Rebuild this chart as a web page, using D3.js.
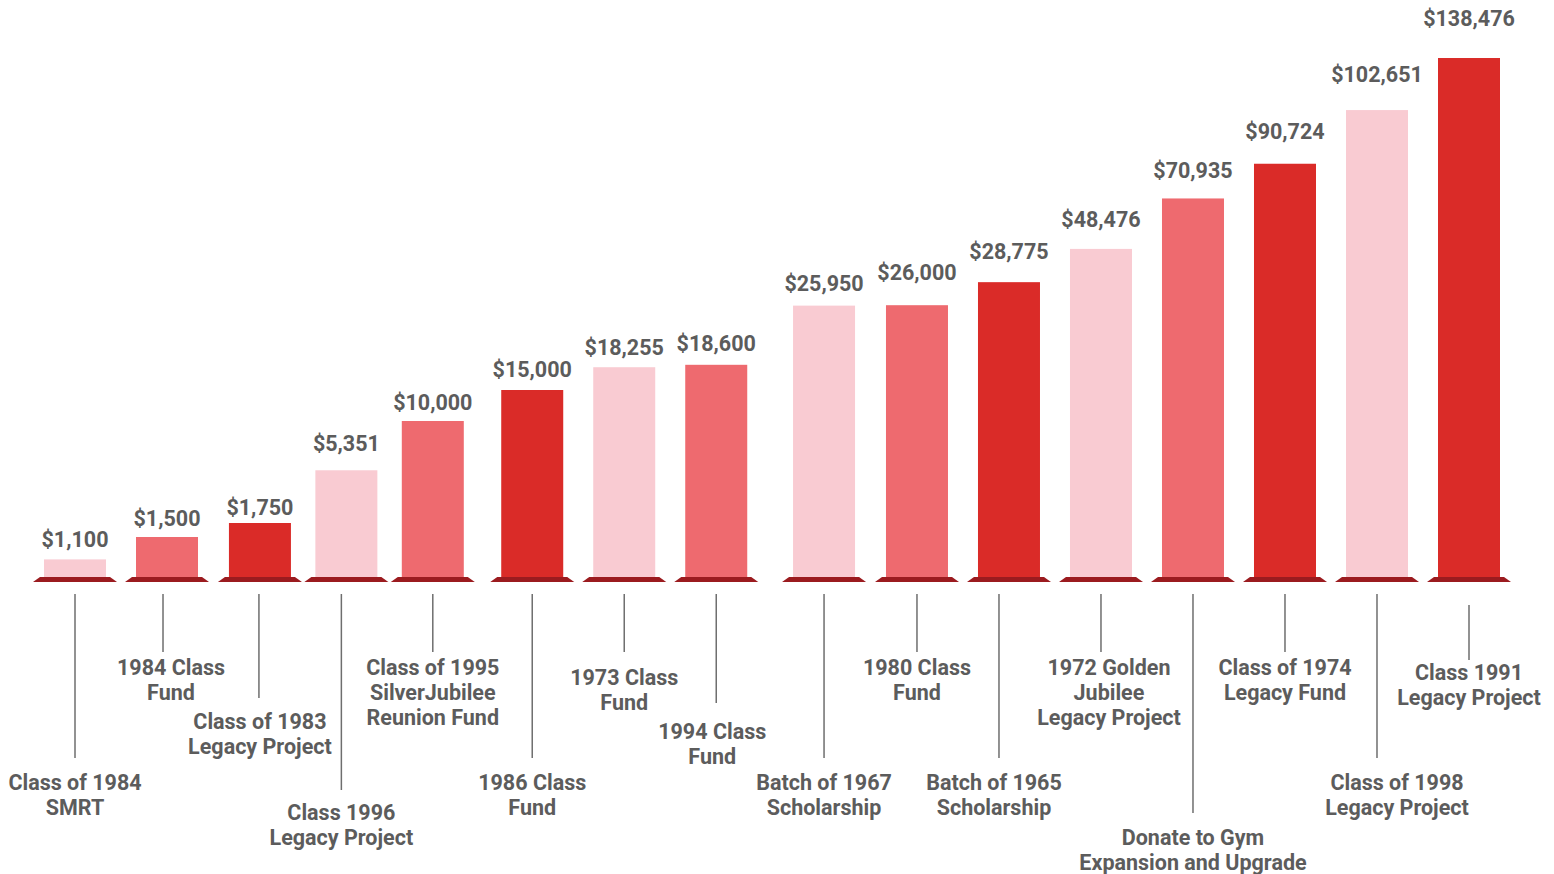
<html>
<head>
<style>
  body { margin: 0; background: #fff; }
  text { font-family: Roboto, "Noto Sans", sans-serif; font-weight: 700; fill: #5c5c5c; }
  .lead { stroke: #6e6e6e; stroke-width: 1.5; }
</style>
</head>
<body>
<svg id="chart" width="1554" height="874"></svg>
<script src="https://cdn.jsdelivr.net/npm/d3@7"></script>
<script>
// data
const names = [
  ["Class of 1984", "SMRT"],
  ["1984 Class", "Fund"],
  ["Class of 1983", "Legacy Project"],
  ["Class 1996", "Legacy Project"],
  ["Class of 1995", "SilverJubilee", "Reunion Fund"],
  ["1986 Class", "Fund"],
  ["1973 Class", "Fund"],
  ["1994 Class", "Fund"],
  ["Batch of 1967", "Scholarship"],
  ["1980 Class", "Fund"],
  ["Batch of 1965", "Scholarship"],
  ["1972 Golden", "Jubilee", "Legacy Project"],
  ["Donate to Gym", "Expansion and Upgrade"],
  ["Class of 1974", "Legacy Fund"],
  ["Class of 1998", "Legacy Project"],
  ["Class 1991", "Legacy Project"]
]
const amounts = [1100, 1500, 1750, 5351, 10000, 15000, 18255, 18600, 25950, 26000, 28775, 48476, 70935, 90724, 102651, 138476]
const shade = [0, 1, 2, 0, 1, 2, 0, 1, 0, 1, 2, 0, 1, 2, 0, 2]

// layout of the infographic (not data): slot of each bar, staggered labels
const slot    = [0, 0.99, 1.99, 2.92, 3.85, 4.92, 5.91, 6.9, 8.06, 9.06, 10.05, 11.04, 12.03, 13.02, 14.01, 15]
const lineDx  = [0, -4, -1, -5, 0, 0, 0, 0, 0, 0, -10, 0, 0, 0, 0, 0]
const lineEnd = [758, 652, 698, 790, 652, 758, 652, 703, 758, 652, 758, 652, 813, 652, 758, 660]
const textTop = [790, 675, 729, 820, 675, 790, 685, 739, 790, 675, 790, 675, 845, 675, 790, 680]
const textDx  = [0, 4, 0, -5, 0, 0, 0, -4, 0, 0, -15, 8, 0, 0, 20, 0]
const valueGap = [12, 11, 8, 19, 11, 13, 12, 14, 15, 25, 23, 22, 20, 25, 28, 32]

const colors = ["#f9cbd2", "#ee6a6f", "#da2b28"]
const baseY = 577
const barW = 62

const svg = d3.select("#chart")
const keys = d3.range(amounts.length)

const xs = d3.scaleLinear()
  .domain([0, 15])
  .range([75, 1469])
const x = i => xs(slot[i])

// the original infographic is not drawn to a linear scale;
// a stepped piecewise scale reproduces its bar heights
const y = d3.scaleLinear()
  .domain([0, 1000, 2000, 5000, 10000, 15000, 20000, 30000, 50000, 70000, 90000, 110000, 140000])
  .range([0, 12, 68, 103, 156, 187, 222, 305, 330, 377, 410, 500, 520].map(h => baseY - h))

let bars = svg.append("g")
bars.selectAll("rect")
  .data(keys)
  .join("rect")
  .attr("x", i => x(i) - barW / 2)
  .attr("y", i => y(amounts[i]))
  .attr("width", barW)
  .attr("height", i => baseY - y(amounts[i]))
  .attr("fill", i => colors[shade[i]])

// dark plinth under each bar
bars.selectAll("path")
  .data(keys)
  .join("path")
  .attr("d", i => {
    let c = x(i)
    return `M${c - 35},${baseY} L${c + 35},${baseY} L${c + 42},${baseY + 5} L${c - 42},${baseY + 5} Z`
  })
  .attr("fill", "#9b1b1f")

svg.append("g").selectAll("text")
  .data(keys)
  .join("text")
  .attr("x", i => x(i))
  .attr("y", i => y(amounts[i]) - valueGap[i])
  .attr("text-anchor", "middle")
  .attr("font-size", 21.5)
  .text(i => d3.format("$,")(amounts[i]))

svg.append("g").selectAll("line")
  .data(keys)
  .join("line")
  .attr("class", "lead")
  .attr("x1", i => x(i) + lineDx[i])
  .attr("x2", i => x(i) + lineDx[i])
  .attr("y1", i => i == 15 ? 605 : 594)
  .attr("y2", i => lineEnd[i])

let labels = svg.append("g").selectAll("text")
  .data(keys)
  .join("text")
  .attr("text-anchor", "middle")
  .attr("font-size", 21.5)
  .attr("y", i => textTop[i])

labels.selectAll("tspan")
  .data(i => names[i].map(t => ({ t: t, i: i })))
  .join("tspan")
  .attr("x", d => x(d.i) + textDx[d.i])
  .attr("dy", (d, k) => k == 0 ? 0 : 25)
  .text(d => d.t)
</script>
</body>
</html>
